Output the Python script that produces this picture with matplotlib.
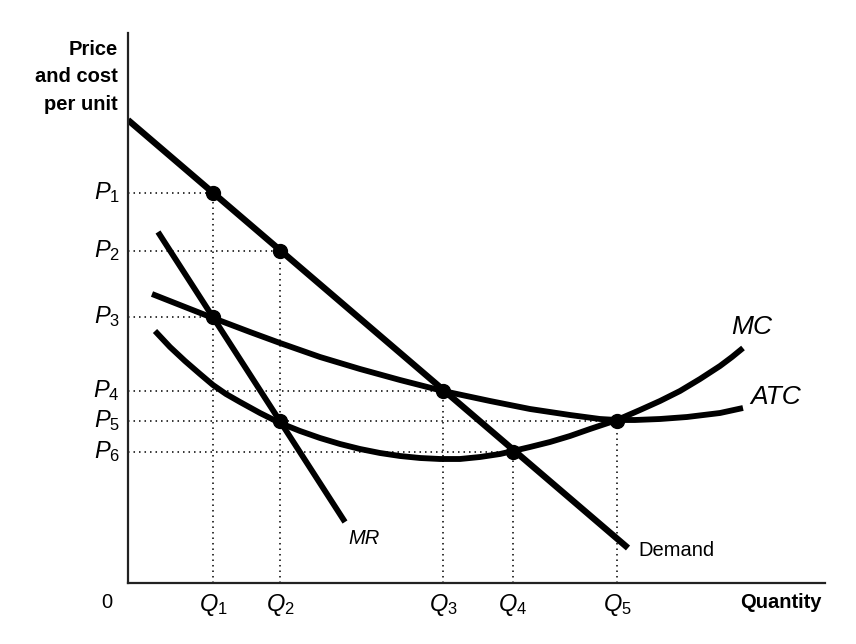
import matplotlib.pyplot as plt
import numpy as np

plt.rcParams['font.family'] = ['Liberation Sans', 'DejaVu Sans']
plt.rcParams['mathtext.fontset'] = 'custom'
plt.rcParams['mathtext.it'] = 'Liberation Sans:italic'
plt.rcParams['mathtext.rm'] = 'Liberation Sans'

# Key quantities and prices
q_levels = [85, 152, 315, 385, 489]
q_labels = [r'$Q_1$', r'$Q_2$', r'$Q_3$', r'$Q_4$', r'$Q_5$']
p_levels = [390, 332, 266, 192, 162, 131]
p_labels = [r'$P_1$', r'$P_2$', r'$P_3$', r'$P_4$', r'$P_5$', r'$P_6$']

# Curves
demand_q = [0, 500]
demand_p = [463, 35]
mr_q = [30, 217]
mr_p = [351, 61]
atc_q = [24, 57, 85, 122, 152, 192, 232, 272, 315, 362, 402, 442, 472, 489, 507,
         532, 559, 592, 615]
atc_p = [289, 276, 265, 251, 240, 226, 214, 203, 192, 182, 174, 168, 164, 163, 163,
         164, 166, 170, 175]
mc_q = [27, 42, 57, 72, 85, 98, 112, 132, 152, 172, 192, 212, 232, 252, 272, 292,
        312, 332, 352, 372, 385, 402, 422, 442, 462, 489, 512, 532, 552, 572, 592, 604, 615]
mc_p = [252, 236, 222, 209, 198, 189, 181, 170, 160, 152, 145, 139, 134, 130, 127, 125,
        124, 124, 126, 129, 132, 136, 141, 147, 154, 163, 173, 182, 192, 204, 217, 226, 235]

# Marked points: (quantity index, price index)
dots_q = [0, 1, 0, 2, 1, 4, 3]
dots_p = [0, 1, 2, 3, 4, 4, 5]

fig = plt.figure(figsize=(8.56, 6.44), dpi=100)
ax = fig.add_axes([128/856, 61/644, 697/856, 550/644])
ax.set_xlim(0, 697)
ax.set_ylim(0, 550)

for s in ['top', 'right']:
    ax.spines[s].set_visible(False)
for s in ['left', 'bottom']:
    ax.spines[s].set_linewidth(1.6)
    ax.spines[s].set_color('#222222')
ax.set_xticks([])
ax.set_yticks([])

dot_style = dict(color='black', lw=1.1, linestyle=(0, (1, 2.6)))

# dotted guide lines, out to the furthest marked point on each level
for pi, p in enumerate(p_levels):
    right = max(q_levels[qi] for qi, pj in zip(dots_q, dots_p) if pj == pi)
    ax.plot([0, right], [p, p], **dot_style)
for qi, q in enumerate(q_levels):
    top = max(p_levels[pi] for qj, pi in zip(dots_q, dots_p) if qj == qi)
    ax.plot([q, q], [0, top], **dot_style)

lw = 4.2
ax.plot(demand_q, demand_p, color='black', lw=lw + 0.4, solid_capstyle='butt')
ax.plot(mr_q, mr_p, color='black', lw=lw, solid_capstyle='butt')
ax.plot(atc_q, atc_p, color='black', lw=lw, solid_capstyle='butt', solid_joinstyle='round')
ax.plot(mc_q, mc_p, color='black', lw=lw, solid_capstyle='butt', solid_joinstyle='round')

ax.plot([q_levels[i] for i in dots_q], [p_levels[i] for i in dots_p], 'o',
        color='black', markersize=10, zorder=5)

for p, lab in zip(p_levels, p_labels):
    ax.text(-8, p, lab, ha='right', va='center', fontsize=17)
for q, lab in zip(q_levels, q_labels):
    ax.text(q, -9, lab, ha='center', va='top', fontsize=17, clip_on=False)

ax.text(-10, 543, 'Price\nand cost\nper unit', ha='right', va='top', fontsize=14.5,
        fontweight='bold', linespacing=1.55)
ax.text(694, -20, 'Quantity', ha='right', va='center', fontsize=14.5, fontweight='bold')
ax.text(-21, -20, '0', ha='center', va='center', fontsize=14.5)

ax.text(603, 256, 'MC', ha='left', va='center', fontsize=19, style='italic')
ax.text(622, 186, 'ATC', ha='left', va='center', fontsize=19, style='italic')
ax.text(220, 45, 'MR', ha='left', va='center', fontsize=14.5, style='italic')
ax.text(510, 33, 'Demand', ha='left', va='center', fontsize=14.5)

fig.savefig('out.png', dpi=100)
